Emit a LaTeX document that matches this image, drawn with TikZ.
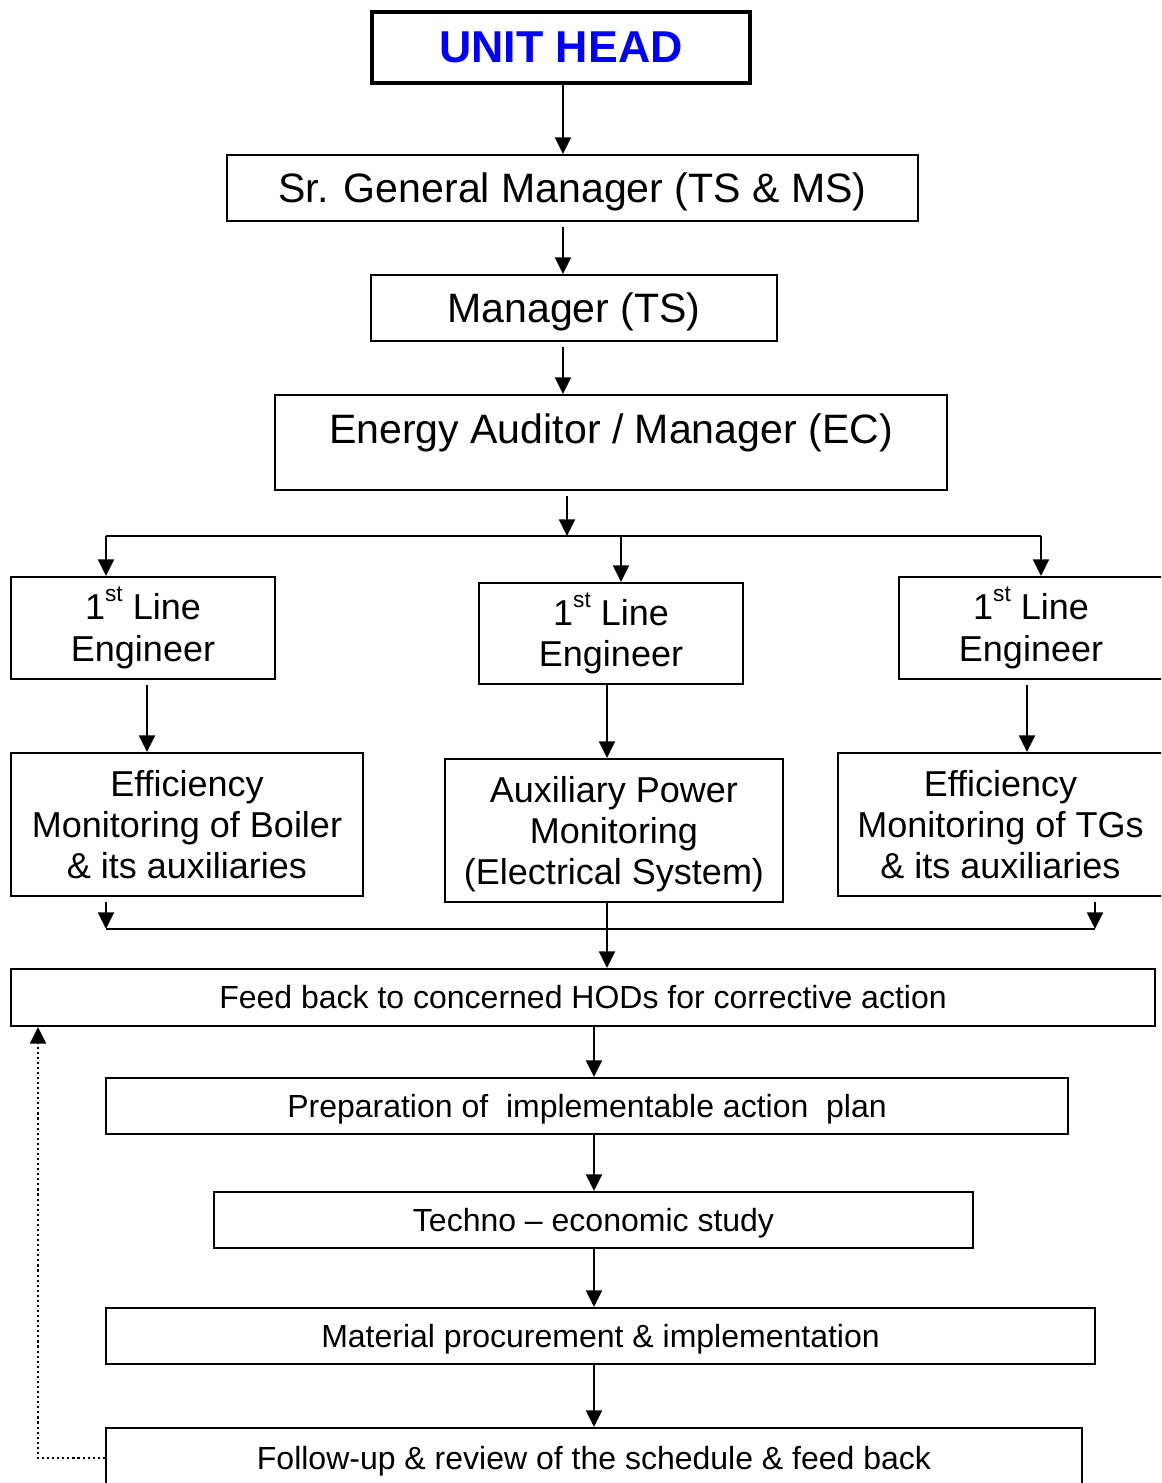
\documentclass[tikz,border=0pt]{standalone}
\usepackage{fontspec}
\setmainfont{Liberation Sans}
\usetikzlibrary{arrows.meta}
\tikzset{
  box/.style={draw, line width=1.6pt, inner sep=0pt, align=center},
  arr/.style={line width=1.5pt, -{Triangle[length=12.5pt,width=12pt]}},
  gap/.style={shorten <=3.75pt},
  conn/.style={line width=1.2pt},
  dotarr/.style={line width=1.7pt, dash pattern=on 1.6pt off 2.2pt, -{Triangle[length=12.5pt,width=12pt]}},
  nodepth/.style={text depth=0pt},
  fbig/.style={font=\fontsize{30.8}{36}\selectfont},
  fmid/.style={font=\fontsize{27}{31}\selectfont},
  fsml/.style={font=\fontsize{24}{28}\selectfont},
  ftitle/.style={font=\fontsize{33.5}{38}\selectfont\bfseries, text=titleblue},
}
\definecolor{titleblue}{RGB}{0,0,255}
\newcommand\mkbox[7]{\node[box,#1,minimum width={(#5-#3)*0.75pt},minimum height={(#6-#4)*0.75pt}] (#2) at ({(#3+#5)/2},{(#4+#6)/2}) {#7};}
\newcommand\sst{\raisebox{13.5pt}{\fontsize{17}{17}\selectfont st}}
\begin{document}
\begin{tikzpicture}[x=0.75pt,y=-0.75pt]
\clip (0,0) rectangle (1161,1483);
\fill[white] (0,0) rectangle (1161,1483);
% boxes
\mkbox{ftitle, line width=3pt}{uh}{372}{12}{750}{83}{UNIT HEAD}
\mkbox{fbig,nodepth}{sgm}{227}{155}{918}{221}{Sr. General Manager (TS \& MS)}
\mkbox{fbig,nodepth}{mts}{371}{275}{777}{341}{Manager (TS)}
\mkbox{fbig}{ea}{275}{395}{947}{490}{}
\node[fbig, inner sep=0pt] (eat) at (611,433) {Energy Auditor / Manager (EC)};
\mkbox{fmid}{le1}{11}{577}{275}{679}{1\sst{} Line\\Engineer}
\mkbox{fmid}{me1}{479}{583}{743}{684}{1\sst{} Line\\Engineer}
\mkbox{fmid}{re1}{899}{577}{1163}{679}{1\sst{} Line\\Engineer}
\mkbox{fmid}{lef}{11}{753}{363}{896}{Efficiency\\Monitoring of Boiler\\\& its auxiliaries}
\mkbox{fmid,nodepth}{aux}{445}{759}{783}{902}{Auxiliary Power\\Monitoring\\(Electrical System)}
\mkbox{fmid}{ref}{838}{753}{1163}{896}{Efficiency\\Monitoring of TGs\\\& its auxiliaries}
\mkbox{fsml}{fb}{11}{969}{1155}{1026}{Feed back to concerned HODs for corrective action}
\mkbox{fsml,nodepth}{prep}{106}{1078}{1068}{1134}{Preparation of\ \ implementable action\ \ plan}
\mkbox{fsml,nodepth}{tech}{214}{1192}{973}{1248}{Techno -- economic study}
\mkbox{fsml,nodepth}{mat}{106}{1308}{1095}{1364}{Material procurement \& implementation}
\mkbox{fsml,nodepth}{fu}{106}{1428}{1082}{1488}{Follow-up \& review of the schedule \& feed back}
% helper coordinates
\coordinate (x563) at (563,0);
\coordinate (hb) at (567,536);
\coordinate (hl) at (106,536);
\coordinate (hr) at (1041,536);
\coordinate (hm) at (621,536);
\coordinate (x147) at (147,0);
\coordinate (x607) at (607,0);
\coordinate (x1027) at (1027,0);
\coordinate (bl) at (106,929);
\coordinate (br) at (1095,929);
\coordinate (x594) at (594,0);
\coordinate (dl) at (38,0);
% connectors
\draw[arr] (uh.south -| x563) -- (sgm.north -| x563);
\draw[arr,gap] (sgm.south -| x563) -- (mts.north -| x563);
\draw[arr,gap] (mts.south -| x563) -- (ea.north -| x563);
\draw[arr,gap] (ea.south -| hb) -- (hb);
\draw[conn] (hl) -- (hr);
\draw[arr] (hl) -- (le1.north -| hl);
\draw[arr] (hm) -- (me1.north -| hm);
\draw[arr] (hr) -- (re1.north -| hr);
\draw[arr,gap] (le1.south -| x147) -- (lef.north -| x147);
\draw[arr] (me1.south -| x607) -- (aux.north -| x607);
\draw[arr,gap] (re1.south -| x1027) -- (ref.north -| x1027);
\draw[arr,gap] (lef.south -| bl) -- (bl);
\draw[arr,gap] (ref.south -| br) -- (br);
\draw[conn] (bl) -- (br);
\draw[arr] (aux.south -| x607) -- (fb.north -| x607);
\draw[arr] (fb.south -| x594) -- (prep.north -| x594);
\draw[arr] (prep.south -| x594) -- (tech.north -| x594);
\draw[arr] (tech.south -| x594) -- (mat.north -| x594);
\draw[arr] (mat.south -| x594) -- (fu.north -| x594);
\draw[dotarr] (fu.west) -| (fb.south -| dl);
\end{tikzpicture}
\end{document}
